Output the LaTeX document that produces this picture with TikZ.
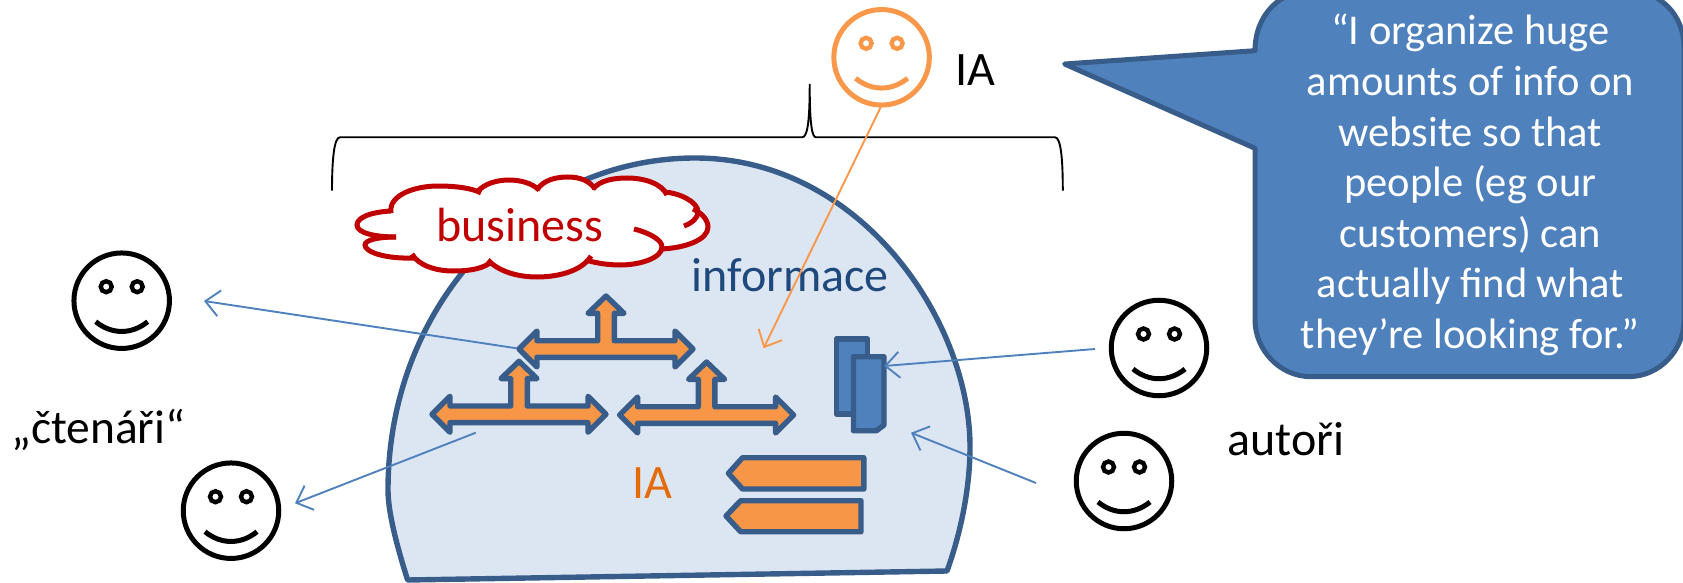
\documentclass[tikz,border=0pt]{standalone}
\usepackage{fontspec}
\setmainfont{Carlito}
\usetikzlibrary{arrows.meta}
\definecolor{blobfill}{HTML}{DCE6F2}
\definecolor{darkline}{HTML}{385D8A}
\definecolor{midblue}{HTML}{4F81BD}
\definecolor{orangefill}{HTML}{F79646}
\definecolor{faceorange}{HTML}{F9984A}
\definecolor{cloudred}{HTML}{C00000}
\definecolor{infoblue}{HTML}{1F497D}
\definecolor{iaorange}{HTML}{E36C09}
\tikzset{
  x=1pt,y=-1pt,
  label text/.style={inner sep=0pt,anchor=base west,font=\fontsize{48}{56}\selectfont},
  thin arrow/.style={line width=1.9pt,-{Straight Barb[length=14pt,width=26pt,line width=1.9pt]}},
  shape line/.style={draw=darkline,line width=5.4pt,line join=round},
  cloud line/.style={draw=cloudred,line width=5pt},
  face/.style={circle,draw=#1,line width=5pt,minimum size=95.5pt,inner sep=0pt},
}
\newcommand{\smiley}[4]{%
  \node[face=#4] (#1) at (#2,#3) {};
  \begin{scope}[shift={(#2,#3)},draw=#4,line width=4.4pt]
    \draw (-15.5,-14) circle (5.5);
    \draw (15.5,-14) circle (5.5);
    \draw[line width=5pt] (-26,21) .. controls (-10,34) and (10,34) .. (26,21);
  \end{scope}}
\newcommand{\triarrow}[2]{%
  \begin{scope}[shift={(#1,#2)}]
    \draw[shape line,fill=orangefill] (-87,0) -- (-69,-18) -- (-69,-8.3) -- (-8.3,-8.3) -- (-8.3,-35.7) -- (-18,-35.7) -- (0,-53) -- (18,-35.7) -- (8.3,-35.7) -- (8.3,-8.3) -- (69,-8.3) -- (69,-18) -- (87,0) -- (69,18) -- (69,8.3) -- (-69,8.3) -- (-69,18) -- cycle;
  \end{scope}}
\begin{document}
\begin{tikzpicture}
\useasboundingbox (0,0) rectangle (1683,583);
% main blob
\draw[shape line,fill=blobfill] (407.6,580) .. controls (395,540) and (388,510) .. (388,490) .. controls (388,300) and (530,158) .. (695,158) .. controls (860,158) and (970,320) .. (970,447) .. controls (970,490) and (960,535) .. (947,571) -- cycle;
% brace
\draw[line width=1.9pt] (332,190.7) .. controls (332,160) and (334,137.3) .. (340,137.3) -- (802,137.3) .. controls (807,137.3) and (809.7,125) .. (809.7,84) .. controls (809.7,125) and (812,137.3) .. (816,137.3) -- (1055,137.3) .. controls (1061,137.3) and (1062.8,160) .. (1062.8,190.7);
% cloud fill
\fill[white] (391,213) .. controls (388,195) and (415,186) .. (438,186) .. controls (455,186) and (472,188) .. (481,193)
 .. controls (485,183) and (498,180) .. (509,180) .. controls (520,180) and (532,183) .. (539,190)
 .. controls (543,180) and (556,177) .. (568,177) .. controls (580,177) and (590,181) .. (595,189)
 .. controls (600,180) and (615,178) .. (627,178) .. controls (645,178) and (662,184) .. (667,195)
 .. controls (680,193) and (698,202) .. (698,212) -- (708,227) .. controls (708,240) and (685,248) .. (661,249)
 -- (662,247) .. controls (662,258) and (640,265) .. (620,265) .. controls (608,265) and (597,263) .. (589,261)
 .. controls (583,270) and (560,277) .. (537,277) .. controls (515,277) and (497,270) .. (488,260)
 .. controls (480,270) and (465,271) .. (453,271) .. controls (435,271) and (418,265) .. (412,256)
 .. controls (385,259) and (365,252) .. (365,245) .. controls (365,240) and (378,237) .. (396,237)
 .. controls (375,237) and (357,233) .. (357,225) .. controls (357,217) and (372,212) .. (391,211) -- cycle;
% cloud lobes
\draw[cloud line] (391,213) .. controls (388,195) and (415,186) .. (438,186) .. controls (455,186) and (472,188) .. (481,193);
\draw[cloud line] (477,192) .. controls (485,183) and (498,180) .. (509,180) .. controls (520,180) and (532,183) .. (539,190);
\draw[cloud line] (537,190) .. controls (543,180) and (556,177) .. (568,177) .. controls (580,177) and (590,181) .. (595,189);
\draw[cloud line] (593,189) .. controls (600,180) and (615,178) .. (627,178) .. controls (645,178) and (662,184) .. (667,195);
\draw[cloud line] (664,192) .. controls (680,193) and (698,202) .. (698,212) .. controls (698,218) and (692,223) .. (684,226);
\draw[cloud line] (693,209) .. controls (702,213) and (708,220) .. (708,227) .. controls (708,240) and (685,248) .. (661,249);
\draw[cloud line] (634,229) .. controls (650,233) and (662,240) .. (662,247) .. controls (662,258) and (640,265) .. (620,265) .. controls (608,265) and (597,263) .. (589,261);
\draw[cloud line] (591,256) .. controls (583,270) and (560,277) .. (537,277) .. controls (515,277) and (497,270) .. (488,260);
\draw[cloud line] (490,263) .. controls (480,270) and (465,271) .. (453,271) .. controls (435,271) and (418,265) .. (412,254);
\draw[cloud line] (414,258) .. controls (385,259) and (365,252) .. (365,245) .. controls (365,240) and (378,237) .. (396,237);
\draw[cloud line] (396,237) .. controls (375,237) and (357,233) .. (357,225) .. controls (357,217) and (372,212) .. (391,211);
% texts
\node[label text,text=cloudred] (business) at (435.8,241.5) {business};
\node[label text,text=infoblue] (informace) at (691.5,291.7) {informace};
\node[label text,text=iaorange] (iaorange) at (632.4,498.3) {IA};
\node[label text] (iatop) at (955,85.7) {IA};
\node[label text,font=\fontsize{47.5}{56}\selectfont] (ctenari) at (11,443.5) {„čtenáři“};
\node[label text] (autori) at (1227,455) {autoři};
% faces
\smiley{faceia}{881.6}{57.3}{faceorange}
\smiley{faceone}{121.7}{300.7}{black}
\smiley{facetwo}{231}{510.7}{black}
\smiley{facethree}{1159}{348}{black}
\smiley{facefour}{1124}{481}{black}
% tri arrows
\triarrow{606}{349}
\triarrow{519}{414.3}
\triarrow{706.6}{415}
% documents
\draw[shape line,fill=midblue] (836.3,339) rectangle (867.7,414);
\draw[shape line,fill=midblue] (853.5,356.7) -- (884,356.7) -- (884,425) -- (876.5,430.7) -- (853.5,430.7) -- cycle;
% pentagons
\draw[shape line,fill=orangefill] (728.4,473.3) -- (742.5,457.7) -- (863.8,457.7) -- (863.8,489) -- (742.5,489) -- cycle;
\draw[shape line,fill=orangefill] (726,516) -- (740.6,500.7) -- (861,500.7) -- (861,531.7) -- (740.6,531.7) -- cycle;
% connector ends
\coordinate (atop) at (516.7,348.3);
\coordinate (aone) at (204,301);
\coordinate (alow) at (475.8,432.7);
\coordinate (atwo) at (295,503.3);
\coordinate (bthree) at (1095,349);
\coordinate (adoc) at (884,366);
\coordinate (bfour) at (1036,483);
\coordinate (ablob) at (911,432.7);
\coordinate (iastart) at (880.6,107.3);
\coordinate (iaend) at (763.6,348.3);
\draw[thin arrow,midblue] (atop) -- (aone);
\draw[thin arrow,midblue] (alow) -- (atwo);
\draw[thin arrow,midblue] (bthree) -- (adoc);
\draw[thin arrow,midblue] (bfour) -- (ablob);
\draw[thin arrow,faceorange] (iastart) -- (iaend);
% callout
\draw[line width=5pt,draw=darkline,fill=midblue,line join=round] (1064.6,64) -- (1255,50.7) .. controls (1255,15) and (1280,-9.5) .. (1311,-9.5) -- (1628,-9.5) .. controls (1660,-9.5) and (1684,15) .. (1684,47) -- (1684,320) .. controls (1684,350) and (1660,376.7) .. (1628,376.7) -- (1311,376.7) .. controls (1280,376.7) and (1255,350) .. (1255,320) -- (1255,148.3) -- cycle;
\node[inner sep=0pt,anchor=base,align=center,text=white,font=\fontsize{42.5}{50.6}\selectfont] (quote) at (1470.3,348.5) {“I organize huge\\amounts of info on\\website so that\\people (eg our\\customers) can\\actually find what\\they’re looking for.”};
\end{tikzpicture}
\end{document}
